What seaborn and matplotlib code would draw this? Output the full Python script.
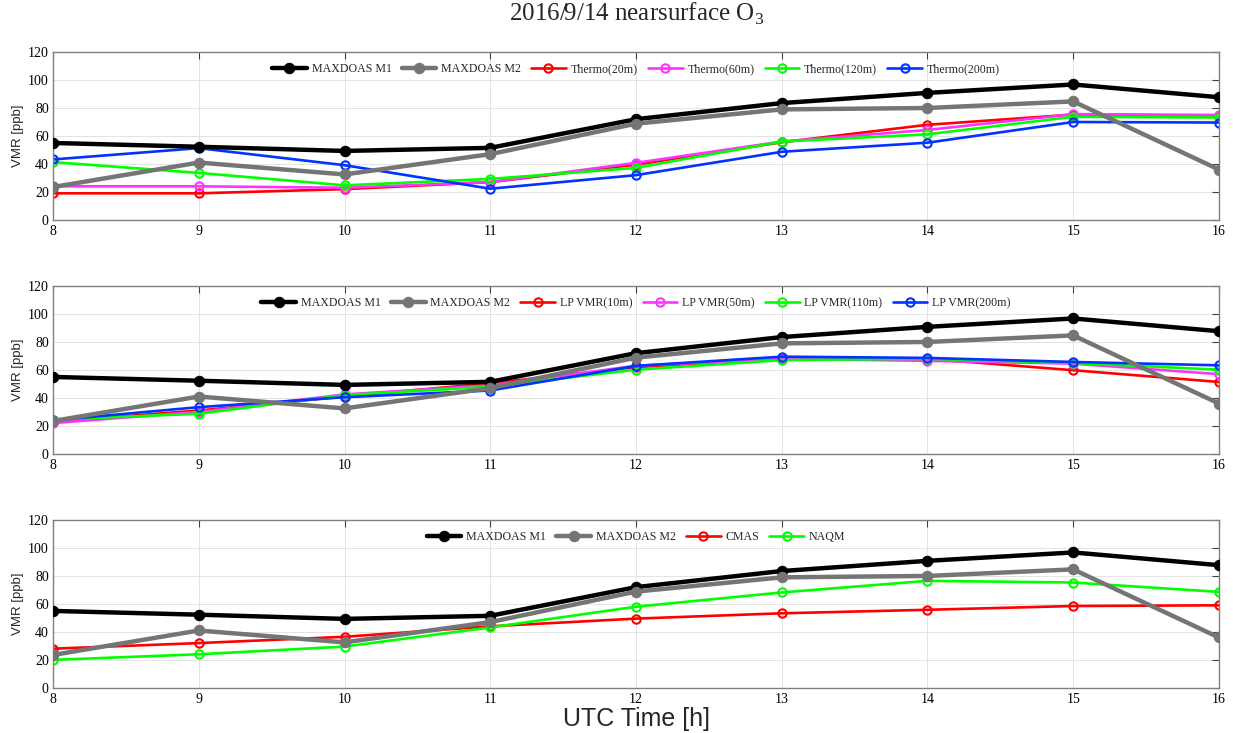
import numpy as np
import pandas as pd
import matplotlib
matplotlib.use("Agg")
import matplotlib.pyplot as plt
import seaborn as sns

# Hours (UTC)
hours = [8, 9, 10, 11, 12, 13, 14, 15, 16]

# MAX-DOAS retrievals (shared by all panels)
maxdoas_m1 = [55, 52.3, 49.3, 51.5, 72, 83.5, 90.8, 96.8, 87.7]
maxdoas_m2 = [23.5, 41, 32.5, 47, 68.8, 79, 80, 84.7, 36]

# Panel 1: Thermo in-situ at different heights
thermo_20m = [19, 19, 22, 27, 39.5, 55.5, 68, 75.3, 74.5]
thermo_60m = [24, 24, 23, 27, 40.8, 56, 64.3, 75.6, 75]
thermo_120m = [41.3, 33.6, 24.7, 29.3, 37.2, 56, 61.2, 73.7, 73.2]
thermo_200m = [43.2, 51.3, 39.1, 22.3, 32, 48.7, 55.2, 70, 69.6]

# Panel 2: long-path DOAS VMRs
lp_10m = [23, 31, 41, 50.5, 62, 68, 68, 59.8, 51.4]
lp_50m = [22, 30, 42.5, 49, 63, 68, 66.5, 64.5, 57]
lp_110m = [24.5, 28.7, 42, 48, 60.2, 67, 68, 65, 60.2]
lp_200m = [24, 33.4, 40.5, 45.3, 62.9, 69.5, 68.6, 65.7, 63.3]

# Panel 3: model results
cmas = [28, 32, 36.5, 44, 49.5, 53.3, 55.8, 58.5, 59]
naqm = [20, 24, 29.5, 43.2, 58, 68.2, 76.5, 75.3, 68.6]

panel_series = [
    [("MAXDOAS M1", maxdoas_m1, "black"), ("MAXDOAS M2", maxdoas_m2, "#757575"),
     ("Thermo(20m)", thermo_20m, "#ff0000"), ("Thermo(60m)", thermo_60m, "#ff33ff"),
     ("Thermo(120m)", thermo_120m, "#00ff00"), ("Thermo(200m)", thermo_200m, "#0033ff")],
    [("MAXDOAS M1", maxdoas_m1, "black"), ("MAXDOAS M2", maxdoas_m2, "#757575"),
     ("LP VMR(10m)", lp_10m, "#ff0000"), ("LP VMR(50m)", lp_50m, "#ff33ff"),
     ("LP VMR(110m)", lp_110m, "#00ff00"), ("LP VMR(200m)", lp_200m, "#0033ff")],
    [("MAXDOAS M1", maxdoas_m1, "black"), ("MAXDOAS M2", maxdoas_m2, "#757575"),
     ("CMAS", cmas, "#ff0000"), ("NAQM", naqm, "#00ff00")],
]

sns.set_theme(style="whitegrid")
plt.rcParams["font.family"] = ["Liberation Serif", "DejaVu Serif"]
plt.rcParams["mathtext.fontset"] = "custom"
plt.rcParams["mathtext.rm"] = "Liberation Serif"

fig = plt.figure(figsize=(12.33, 7.33), dpi=100)
fig.patch.set_facecolor("white")

left, right = 0.043, 0.9886
tops = [0.929, 0.6098, 0.2906]
height = 0.229

for i, series in enumerate(panel_series):
    ax = fig.add_axes([left, tops[i] - height, right - left, height])
    ax.set_facecolor("white")
    for name, vals, col in series:
        df = pd.DataFrame({"hour": hours, "vmr": vals})
        if name.startswith("MAXDOAS"):
            sns.lineplot(data=df, x="hour", y="vmr", ax=ax, color=col, lw=3.2,
                         marker="o", markersize=7.5, markerfacecolor=col,
                         markeredgecolor=col, label=name, zorder=3)
        else:
            sns.lineplot(data=df, x="hour", y="vmr", ax=ax, color=col, lw=1.9,
                         marker="o", markersize=6, markerfacecolor="none",
                         markeredgecolor=col, markeredgewidth=1.5, label=name,
                         zorder=2)
    ax.set_xlim(8, 16)
    ax.set_ylim(0, 120)
    ax.set_xticks(hours)
    ax.set_yticks(range(0, 121, 20))
    ax.grid(True, color="#e3e3e3", lw=0.7)
    for sp in ax.spines.values():
        sp.set_color("#808080")
        sp.set_linewidth(1.0)
    ax.tick_params(axis="both", direction="in", length=5, width=0.8,
                   color="#404040", top=True, right=True, labelsize=10,
                   labelcolor="black", pad=3)
    ax.tick_params(axis="x", pad=4)
    ax.set_xlabel("")
    ax.set_ylabel("VMR [ppb]", fontsize=9.5, family=["Liberation Sans"],
                  labelpad=3)
    ax.legend(loc="upper center", bbox_to_anchor=(0.5, 0.985),
              ncol=len(series), frameon=False, fontsize=8.6,
              handlelength=2.9, handletextpad=0.4, columnspacing=0.85,
              borderaxespad=0.3)

fig.text(0.516, 0.971, r"2016/9/14 nearsurface O$_3$", ha="center",
         va="baseline", fontsize=18, family=["Liberation Serif"])
fig.text(0.516, 0.009, "UTC Time [h]", ha="center", va="baseline", fontsize=18,
         family=["Liberation Sans"])

fig.savefig("out.png", dpi=100, facecolor="white")
